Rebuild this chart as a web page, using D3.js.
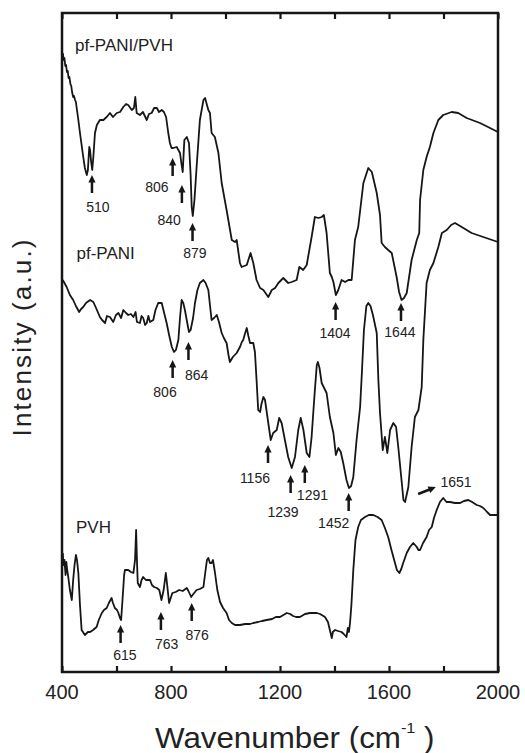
<!DOCTYPE html>
<html>
<head>
<meta charset="utf-8">
<script src="https://cdn.jsdelivr.net/npm/d3@7"></script>
<style>
  body { margin: 0; background: #fff; }
  svg { display: block; font-family: "Liberation Sans", Arial, Helvetica, sans-serif; }
</style>
</head>
<body>
<svg id="chart" width="525" height="753"></svg>
<script>
// FTIR spectra, offset vertically (arbitrary units)
const hybridWn = [403,406,409,412,415,418,421,424,427,431,434,437,441,444,448,451,455,460,466,472,478,484,491,495,500,503,507,511,515,521,528,539,552,564,576,587,601,613,625,635,643,656,664,669,674,686,697,711,719,729,738,748,756,766,774,782,790,796,802,808,821,833,839,843,849,858,866,872,876,880,886,894,906,919,925,937,943,949,961,974,986,1004,1023,1035,1041,1053,1059,1078,1092,1102,1114,1127,1139,1157,1170,1182,1194,1212,1230,1243,1261,1271,1285,1298,1316,1328,1341,1353,1361,1371,1383,1390,1396,1405,1414,1426,1439,1451,1463,1475,1487,1506,1524,1537,1555,1567,1573,1585,1597,1610,1628,1637,1646,1655,1665,1683,1702,1711,1714,1726,1738,1750,1763,1781,1799,1830,1854,1885,1934,2000];
const hybridIntensity = [619,612,614,606,607,600,601,594,595,588,586,580,575,576,572,570,562,552,539,527,515,504,497,502,525,522,510,502,515,539,547,552,552,555,559,555,559,560,565,568,567,562,564,575,559,557,560,552,558,559,564,564,560,562,560,555,539,529,524,524,525,519,507,500,532,535,529,497,465,456,472,505,552,572,574,562,559,539,535,519,489,462,432,430,432,409,405,407,419,409,392,384,382,375,382,384,389,394,389,390,392,405,402,407,435,455,454,455,457,439,399,395,390,377,382,392,390,392,392,432,445,489,504,500,479,457,429,425,422,419,395,380,372,374,379,412,432,439,472,502,515,525,539,552,557,560,559,554,549,540];

const panIWn = [403,407,417,429,441,451,463,470,478,488,503,515,525,539,547,558,565,576,588,598,607,617,625,635,643,653,662,670,675,686,692,698,705,711,717,723,735,743,753,766,774,784,793,803,811,818,827,833,839,845,851,859,866,872,881,888,897,906,919,927,937,943,949,958,968,976,986,994,1004,1011,1016,1027,1041,1047,1053,1060,1065,1071,1078,1084,1090,1102,1108,1114,1120,1127,1132,1139,1145,1157,1166,1175,1188,1197,1206,1218,1230,1243,1255,1267,1276,1286,1298,1308,1316,1322,1328,1335,1339,1345,1353,1371,1383,1396,1405,1414,1423,1432,1444,1453,1461,1469,1481,1494,1501,1508,1517,1524,1532,1541,1555,1561,1567,1577,1585,1594,1604,1616,1626,1634,1647,1653,1659,1671,1683,1695,1708,1720,1726,1738,1750,1763,1781,1794,1812,1828,1842,1867,1903,1946,2000];
const panIIntensity = [392,390,385,377,372,366,360,363,365,369,372,370,364,355,352,349,356,355,350,357,359,354,362,359,357,358,355,360,350,349,356,354,347,349,356,350,352,362,369,369,360,349,337,325,320,322,332,354,372,369,362,350,340,342,354,369,382,389,392,389,382,367,352,354,357,350,339,334,329,317,310,315,319,322,325,330,332,338,344,336,329,329,320,292,262,260,268,275,272,249,232,239,242,254,249,232,215,204,215,242,254,242,219,215,235,259,282,307,310,304,289,279,255,239,217,224,220,209,192,184,186,195,232,265,302,342,366,369,366,357,339,292,259,222,235,219,242,249,245,225,189,172,170,185,225,255,262,285,332,389,402,409,425,439,442,447,449,445,439,435,430];

const pvhWn = [403,405,409,413,416,419,423,429,436,441,446,451,455,460,466,472,484,495,503,514,527,535,546,554,564,572,582,587,594,602,607,613,617,622,628,631,643,653,662,668,672,675,678,686,692,698,708,723,730,738,748,757,765,773,781,786,793,799,805,817,830,843,858,864,874,879,894,906,919,927,932,937,943,949,954,961,970,980,991,1004,1013,1023,1035,1053,1072,1090,1102,1119,1134,1151,1171,1185,1200,1225,1237,1248,1259,1273,1292,1310,1335,1347,1365,1376,1383,1390,1394,1402,1413,1426,1434,1444,1449,1453,1457,1462,1469,1477,1487,1497,1512,1526,1542,1558,1573,1585,1597,1609,1622,1629,1638,1645,1652,1665,1677,1689,1702,1708,1714,1725,1738,1747,1757,1765,1775,1787,1799,1811,1824,1842,1861,1875,1891,1905,1922,1934,1946,1960,1971,1986,2000];
const pvhIntensity = [119,107,112,97,110,102,95,82,72,92,107,117,112,99,67,42,37,40,40,42,45,52,59,62,64,69,74,69,64,62,59,54,52,72,97,102,102,100,99,112,142,112,89,85,92,95,92,92,87,85,84,82,72,82,99,87,69,74,79,80,82,81,84,81,75,77,82,83,85,102,112,114,109,109,112,100,82,70,64,59,52,49,47,47,48,48,49,50,51,52,53,55,55,59,58,56,55,55,58,59,59,58,55,50,42,34,40,42,41,40,38,35,44,40,49,67,102,132,145,152,155,157,157,155,152,144,135,122,109,102,99,103,109,119,125,129,125,122,122,129,135,142,145,154,162,170,174,170,170,169,169,171,172,170,167,166,164,160,157,157,157];

const seriesNames = ["pf-PANI/PVH", "pf-PANI", "PVH"];

const xTicks = [400, 600, 800, 1000, 1200, 1400, 1600, 1800, 2000];
const xTickLabels = [400, 800, 1200, 1600, 2000];

// marked bands (cm-1) for each spectrum
const hybridPeaks = [510, 806, 840, 879, 1404, 1644];
const panIPeaks = [806, 864, 1156, 1239, 1291, 1452];
const pvhPeaks = [615, 763, 876];

// annotation placement in data coordinates: arrow tip level, label centre (wavenumber, level)
const hybridNotes = [[497, 532, 465], [514, 748, 485], [487, 793, 452], [449, 888, 419], [370, 1402, 339], [369, 1640, 340]];
const panINotes = [[312, 778, 280], [330, 894, 297], [227, 1108, 194], [197, 1211, 160], [207, 1319, 177], [179, 1397, 149]];
const pvhNotes = [[47, 631, 17], [60, 784, 28], [69, 896, 37]];

// the 1651 band is flagged with a slanted arrow: tail, head, label
const slantedPeak = 1651;
const slantedNote = { tail: [1707, 178], head: [1772, 185], label: [1846, 190] };

const W = 525, H = 753;
const margin = { top: 13, right: 27, bottom: 81, left: 62 };

const svg = d3.select("#chart");
const x = d3.scaleLinear().domain([400, 2000]).range([margin.left, W - margin.right]);
const y = d3.scaleLinear().domain([0, 659]).range([H - margin.bottom, margin.top]);

const ink = "#161616";

// spectra
const line = d3.line().x(d => x(d[0])).y(d => y(d[1]));
const spectra = [
  d3.zip(hybridWn, hybridIntensity),
  d3.zip(panIWn, panIIntensity),
  d3.zip(pvhWn, pvhIntensity)
];
svg.append("g")
  .selectAll("path")
  .data(spectra)
  .join("path")
  .attr("d", line)
  .attr("fill", "none")
  .attr("stroke", ink)
  .attr("stroke-width", 1.8)
  .attr("stroke-linejoin", "round");

// axes: inward ticks on bottom and top, no y ticks
const bottomAxis = d3.axisBottom(x).tickValues(xTicks).tickSize(-6).tickFormat("");
const topAxis = d3.axisTop(x).tickValues(xTicks).tickSize(-6).tickFormat("");
const gb = svg.append("g").attr("transform", `translate(0,${H - margin.bottom})`).call(bottomAxis);
const gt = svg.append("g").attr("transform", `translate(0,${margin.top})`).call(topAxis);
[gb, gt].forEach(g => {
  g.select(".domain").remove();
  g.selectAll(".tick line").attr("stroke", ink).attr("stroke-width", 2.2);
});

svg.append("g")
  .selectAll("text")
  .data(xTickLabels)
  .join("text")
  .attr("x", d => x(d))
  .attr("y", 699)
  .attr("text-anchor", "middle")
  .attr("font-size", 20)
  .attr("fill", "#222")
  .text(d => d);

// frame
svg.append("rect")
  .attr("x", margin.left)
  .attr("y", margin.top)
  .attr("width", W - margin.left - margin.right)
  .attr("height", H - margin.top - margin.bottom)
  .attr("fill", "none")
  .attr("stroke", ink)
  .attr("stroke-width", 2.5);

// axis titles
const xt = svg.append("text")
  .attr("transform", "translate(155,748) scale(1.08,1)")
  .attr("font-size", 29)
  .attr("fill", "#222");
xt.append("tspan").text("Wavenumber (cm");
xt.append("tspan").attr("font-size", 15).attr("dy", -15).text("-1");
xt.append("tspan").attr("dy", 15).text(" )");

svg.append("text")
  .attr("transform", "translate(31,338) rotate(-90)")
  .attr("text-anchor", "middle")
  .attr("font-size", 26)
  .attr("fill", "#222")
  .attr("textLength", 197)
  .attr("lengthAdjust", "spacing")
  .text("Intensity (a.u.)");

// spectrum names
const nameSpots = [[75, 51], [76.5, 259], [76, 533]];
svg.append("g")
  .selectAll("text")
  .data(seriesNames)
  .join("text")
  .attr("x", (d, i) => nameSpots[i][0])
  .attr("y", (d, i) => nameSpots[i][1])
  .attr("font-size", 17)
  .attr("fill", "#222")
  .text(d => d);

// arrow glyph pointing up, tip at (0,0)
const arrowLen = 18;
const arrowShape = len => `M0,0 L3.6,7.5 L1.25,7.5 L1.25,${len} L-1.25,${len} L-1.25,7.5 L-3.6,7.5 Z`;

const notes = [];
[[hybridPeaks, hybridNotes], [panIPeaks, panINotes], [pvhPeaks, pvhNotes]].forEach(([peaks, place]) => {
  peaks.forEach((wn, i) => notes.push({ wn, tip: place[i][0], lx: place[i][1], ly: place[i][2] }));
});

const ann = svg.append("g");
ann.selectAll("path.arrow")
  .data(notes)
  .join("path")
  .attr("class", "arrow")
  .attr("d", arrowShape(arrowLen))
  .attr("transform", d => `translate(${x(d.wn)},${y(d.tip)})`)
  .attr("fill", ink);

ann.selectAll("text.peak")
  .data(notes)
  .join("text")
  .attr("class", "peak")
  .attr("x", d => x(d.lx))
  .attr("y", d => y(d.ly) + 5)
  .attr("text-anchor", "middle")
  .attr("font-size", 14)
  .attr("fill", "#222")
  .text(d => d.wn);

// slanted arrow
{
  const tx = x(slantedNote.tail[0]), ty = y(slantedNote.tail[1]);
  const hx = x(slantedNote.head[0]), hy = y(slantedNote.head[1]);
  const len = Math.hypot(hx - tx, hy - ty);
  const ang = Math.atan2(hy - ty, hx - tx) * 180 / Math.PI + 90;
  ann.append("path")
    .attr("d", arrowShape(len))
    .attr("transform", `translate(${hx},${hy}) rotate(${ang})`)
    .attr("fill", ink);
  ann.append("text")
    .attr("x", x(slantedNote.label[0]))
    .attr("y", y(slantedNote.label[1]) + 5)
    .attr("text-anchor", "middle")
    .attr("font-size", 14)
    .attr("fill", "#222")
    .text(slantedPeak);
}
</script>
</body>
</html>
